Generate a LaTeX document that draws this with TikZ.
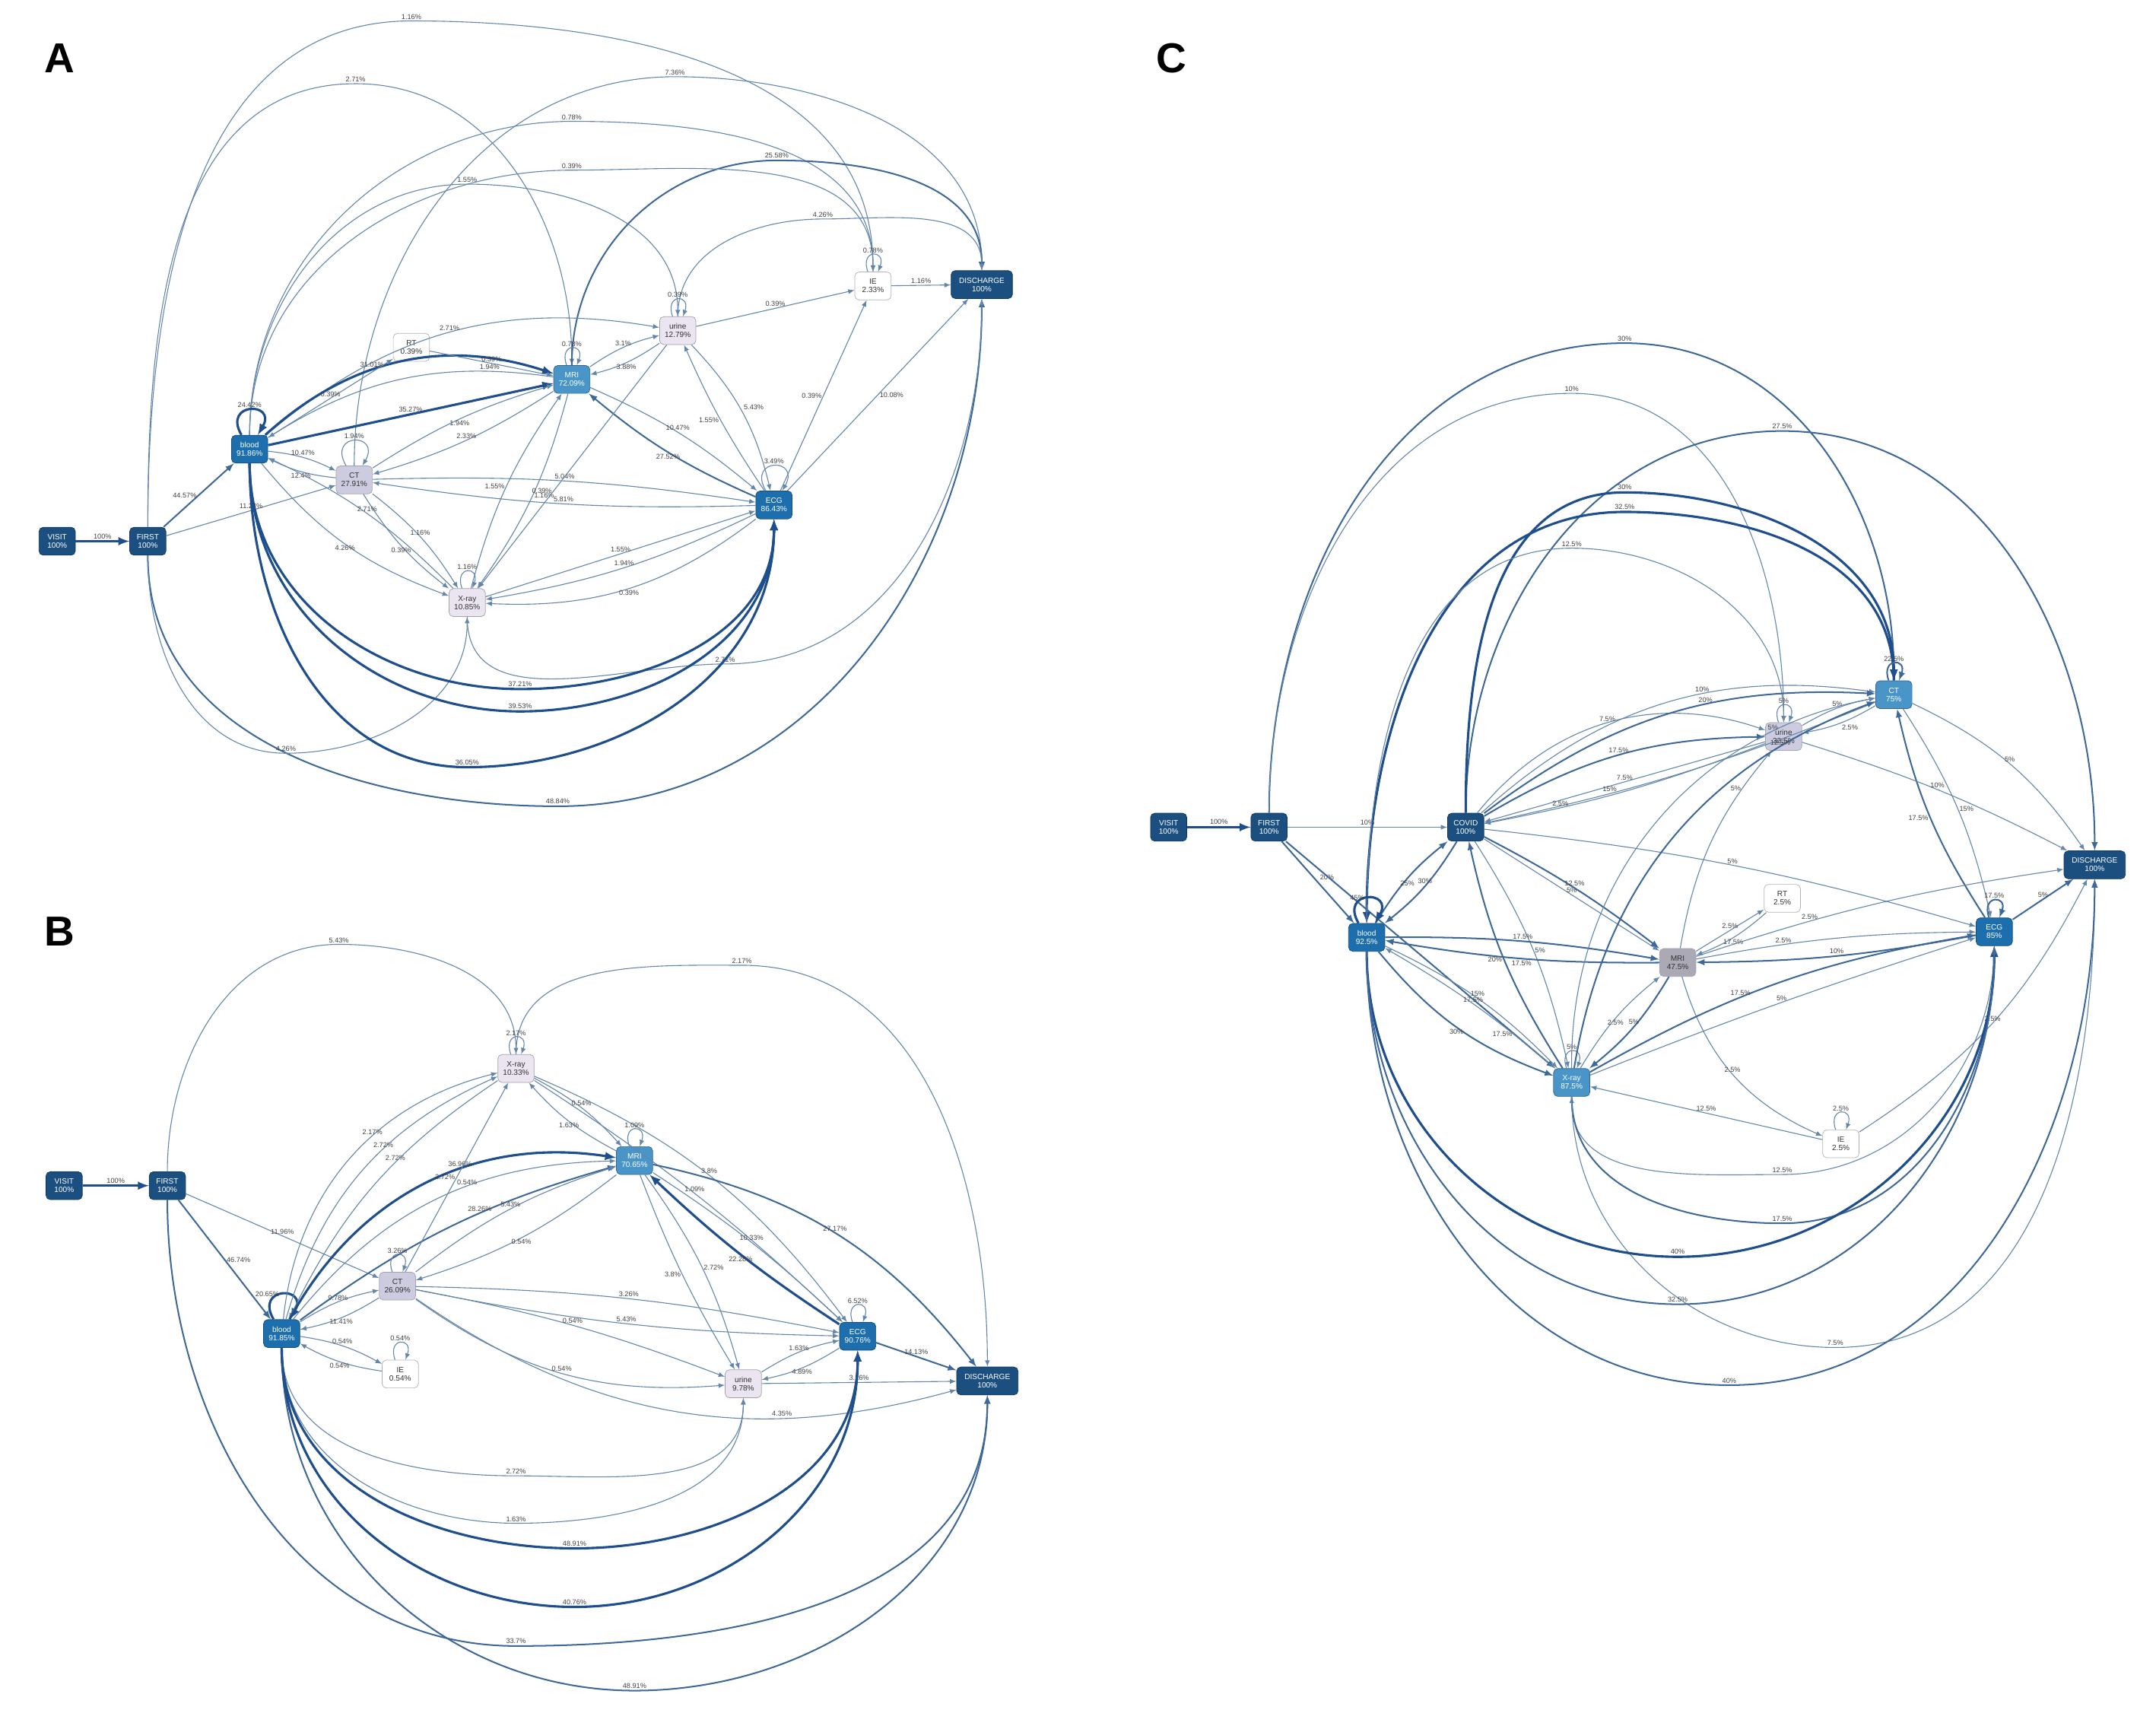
\documentclass[tikz,border=0pt]{standalone}
\usepackage{fontspec}
\setmainfont{Liberation Sans}
\newcommand\arcup[5]{\draw[#1] (#2) to[out=90,in=180] (#3) node[lab,above]{#4} to[out=0,in=90] (#5);}
\newcommand\arcdn[5]{\draw[#1] (#2) to[out=-90,in=180] (#3) node[lab,above]{#4} to[out=0,in=-90] (#5);}
\begin{document}
\begin{tikzpicture}[x=1pt,y=-1pt,
 nd/.style={rounded corners=3pt,minimum width=26pt,minimum height=20pt,inner sep=1pt,align=center,font=\fontsize{5.5}{6}\selectfont,draw=#1!70!black,fill=#1,text=white},
 dk/.style={nd=navy},
 bl/.style={nd=bblue},
 mb/.style={nd=mblue},
 lv/.style={nd=lav,text=black!80,draw=lav!80!black},
 lt/.style={nd=lite,text=black!80,draw=lite!70!black},
 wh/.style={nd=white,text=black!80,draw=gray!60},
 t/.style={draw=thin,line width=0.6pt,-latex},
 m/.style={draw=medc,line width=1.1pt,-latex},
 k/.style={draw=thk,line width=1.7pt,-latex},
 lab/.style={font=\fontsize{5}{5}\selectfont,text=black!75,inner sep=1pt},
 P/.style={font=\bfseries\fontsize{30}{30}\selectfont}]
\definecolor{navy}{HTML}{1B4F7F}
\definecolor{bblue}{HTML}{1C6EAD}
\definecolor{mblue}{HTML}{4A95C8}
\definecolor{lav}{HTML}{CDCBE0}
\definecolor{lite}{HTML}{EAE5F0}
\definecolor{thin}{HTML}{6486AA}
\definecolor{medc}{HTML}{3D6898}
\definecolor{thk}{HTML}{1E4E8C}
\useasboundingbox (0,0) rectangle (1546,1239);
\node[P] at (43,42) {A};
\node[P] at (43,668) {B};
\node[P] at (840,42) {C};
% ---------------- Panel A
\node[dk] (aV) at (41,388) {VISIT\\100\%};
\node[dk] (aF) at (106,388) {FIRST\\100\%};
\node[bl] (aB) at (179,322) {blood\\91.86\%};
\node[lv] (aC) at (254,344) {CT\\27.91\%};
\node[wh] (aR) at (295,249) {RT\\0.39\%};
\node[mb] (aM) at (410,272) {MRI\\72.09\%};
\node[lt] (aU) at (486,237) {urine\\12.79\%};
\node[wh] (aI) at (626,205) {IE\\2.33\%};
\node[dk,minimum width=44pt] (aD) at (704,204) {DISCHARGE\\100\%};
\node[bl] (aE) at (555,362) {ECG\\86.43\%};
\node[lt] (aX) at (335,432) {X-ray\\10.85\%};
\draw[k] (aV) -- node[lab,above]{100\%} (aF);
\draw[m] (aF) -- node[lab,left]{44.57\%} (aB);
\draw[t] (aF) -- node[lab,above]{11.24\%} (aC);
\arcdn{m}{aF}{400,578}{48.84\%}{aD}
\arcdn{t}{aF}{205,540}{4.26\%}{aX}
\arcup{t}{aF}{295,15}{1.16\%}{aI}
\arcup{t}{aF}{255,60}{2.71\%}{aM}
\arcup{t}{aC}{484,55}{7.36\%}{aD}
\arcup{t}{aB}{410,87}{0.78\%}{aI}
\arcup{m}{aM}{557,115}{25.58\%}{aD}
\arcup{t}{aB}{335,132}{1.55\%}{aU}
\arcup{t}{aB}{410,122}{0.39\%}{aI}
\arcup{t}{aU}{590,157}{4.26\%}{aD}
\draw[t] (aB) to[bend left=25] node[lab,above,pos=0.5]{2.71\%} (aU);
\draw[k] (aB) to[bend left=30] node[lab,above,pos=0.4]{31.01\%} (aM);
\draw[t] (aM) to[bend right=20] node[lab,pos=0.2,above]{1.94\%} (aB);
\draw[k] (aB) to[loop,out=120,in=60,looseness=6] node[lab,above]{24.42\%} (aB);
\draw[t] (aB) -- node[lab,above]{0.39\%} (aR);
\draw[t] (aR) -- node[lab,above]{0.39\%} (aM);
\draw[k] (aB) -- node[lab,above]{35.27\%} (aM);
\draw[t] (aB) to[bend left=10] node[lab,above]{10.47\%} (aC);
\draw[t] (aC) to[bend left=10] node[lab,below]{12.4\%} (aB);
\draw[t] (aC) to[loop,out=120,in=60,looseness=6] node[lab,above]{1.94\%} (aC);
\draw[t] (aM) to[bend left=8] node[lab,above]{2.33\%} (aC);
\draw[t] (aC) to[bend left=8] node[lab,below]{1.94\%} (aM);
\draw[t] (aM) to[loop,out=110,in=70,looseness=6] node[lab,above]{0.78\%} (aM);
\draw[t] (aM) to[bend left=10] node[lab,above]{3.1\%} (aU);
\draw[t] (aU) to[bend left=10] node[lab,below]{3.88\%} (aM);
\draw[t] (aU) to[loop,out=110,in=70,looseness=6] node[lab,above]{0.39\%} (aU);
\draw[t] (aU) -- node[lab,above]{0.39\%} (aI);
\draw[t] (aI) to[loop,out=110,in=70,looseness=6] node[lab,above]{0.78\%} (aI);
\draw[t] (aI) -- node[lab,above]{1.16\%} (aD);
\draw[t] (aE) -- node[lab,right]{10.08\%} (aD);
\draw[t] (aE) -- node[lab,left]{0.39\%} (aI);
\draw[t] (aU) to[bend left=15] node[lab,above right]{5.43\%} (aE);
\draw[t] (aE) to[bend left=5] node[lab,left]{1.55\%} (aU);
\draw[t] (aM) to[bend left=8] node[lab,above]{10.47\%} (aE);
\draw[m] (aE) to[bend left=8] node[lab,below]{27.52\%} (aM);
\draw[t] (aE) to[loop,out=120,in=60,looseness=6] node[lab,above]{3.49\%} (aE);
\draw[t] (aC) to[bend left=5] node[lab,above]{5.04\%} (aE);
\draw[t] (aE) to[bend left=5] node[lab,above]{5.81\%} (aC);
\draw[t] (aC) to[bend left=10] node[lab,above]{1.16\%} (aX);
\draw[t] (aC) to[bend right=10] node[lab,below]{0.39\%} (aX);
\draw[t] (aX) to[loop,out=110,in=70,looseness=6] node[lab,above]{1.16\%} (aX);
\draw[t] (aX) to[bend left=10] node[lab,left]{1.55\%} (aM);
\draw[t] (aM) to[bend left=10] node[lab,right]{1.16\%} (aX);
\draw[t] (aU) -- node[lab,left,pos=0.6]{0.39\%} (aX);
\draw[t] (aX) -- node[lab,above]{1.55\%} (aE);
\draw[t] (aE) to[bend left=8] node[lab,above]{1.94\%} (aX);
\draw[t] (aE) to[bend left=20] node[lab,below]{0.39\%} (aX);
\draw[t] (aX) to[bend right=10] node[lab,above]{2.71\%} (aB);
\draw[t] (aB) to[bend right=15] node[lab,below]{4.26\%} (aX);
\arcdn{t}{aX}{520,476}{2.71\%}{aD}
\arcdn{k}{aB}{373,494}{37.21\%}{aE}
\arcdn{k}{aB}{373,510}{39.53\%}{aE}
\arcdn{k}{aB}{335,550}{36.05\%}{aE}
% ---------------- Panel B
\node[dk] (bV) at (46,850) {VISIT\\100\%};
\node[dk] (bF) at (120,850) {FIRST\\100\%};
\node[bl] (bB) at (202,956) {blood\\91.85\%};
\node[wh] (bI) at (287,985) {IE\\0.54\%};
\node[lv] (bC) at (285,922) {CT\\26.09\%};
\node[lt] (bX) at (370,766) {X-ray\\10.33\%};
\node[mb] (bM) at (455,832) {MRI\\70.65\%};
\node[lt] (bU) at (533,992) {urine\\9.78\%};
\node[bl] (bE) at (615,958) {ECG\\90.76\%};
\node[dk,minimum width=44pt] (bD) at (708,990) {DISCHARGE\\100\%};
\draw[k] (bV) -- node[lab,above]{100\%} (bF);
\draw[m] (bF) -- node[lab,right]{46.74\%} (bB);
\draw[t] (bF) -- node[lab,above]{11.96\%} (bC);
\arcup{t}{bF}{243,677}{5.43\%}{bX}
\arcup{t}{bX}{532,692}{2.17\%}{bD}
\arcdn{m}{bF}{370,1180}{33.7\%}{bD}
\arcdn{m}{bB}{455,1212}{48.91\%}{bD}
\draw[k] (bB) to[loop,out=120,in=60,looseness=6] node[lab,left]{20.65\%} (bB);
\draw[t] (bB) to[bend left=10] node[lab,above]{9.78\%} (bC);
\draw[t] (bC) to[bend left=10] node[lab,below]{11.41\%} (bB);
\draw[t] (bB) to[bend left=10] node[lab,above]{0.54\%} (bI);
\draw[t] (bI) to[bend left=10] node[lab,below]{0.54\%} (bB);
\draw[t] (bI) to[loop,out=110,in=70,looseness=6] node[lab,above]{0.54\%} (bI);
\draw[t] (bB) to[bend left=35] node[lab,above,pos=0.6]{2.17\%} (bX);
\draw[t] (bB) to[bend left=25] node[lab,above,pos=0.6]{2.72\%} (bX);
\draw[t] (bX) to[bend right=15] node[lab,above,pos=0.4]{2.72\%} (bB);
\draw[k] (bB) to[bend left=35] node[lab,above,pos=0.6]{36.96\%} (bM);
\draw[t] (bB) to[bend left=25] node[lab,above,pos=0.6]{0.54\%} (bM);
\draw[m] (bB) to[bend left=10] node[lab,above,pos=0.6]{28.26\%} (bM);
\draw[t] (bC) to[loop,out=110,in=70,looseness=6] node[lab,above]{3.26\%} (bC);
\draw[t] (bC) to[bend left=10] node[lab,above]{5.43\%} (bM);
\draw[t] (bM) to[bend left=10] node[lab,below]{0.54\%} (bC);
\draw[t] (bC) -- node[lab,left]{2.72\%} (bX);
\draw[t] (bX) to[loop,out=110,in=70,looseness=6] node[lab,above]{2.17\%} (bX);
\draw[t] (bX) to[bend left=10] node[lab,above]{0.54\%} (bM);
\draw[t] (bM) to[bend left=10] node[lab,below]{1.63\%} (bX);
\draw[t] (bX) to[bend left=15] node[lab,above]{3.8\%} (bE);
\draw[t] (bX) to[bend left=5] node[lab,above]{1.09\%} (bE);
\draw[t] (bM) to[loop,out=110,in=70,looseness=6] node[lab,above]{1.09\%} (bM);
\draw[t] (bM) to[bend left=5] node[lab,above]{10.33\%} (bE);
\draw[k] (bE) to[bend left=5] node[lab,below]{22.28\%} (bM);
\draw[m] (bM) to[bend left=20] node[lab,above]{27.17\%} (bD);
\draw[t] (bM) to[bend left=10] node[lab,right]{2.72\%} (bU);
\draw[t] (bM) to[bend right=5] node[lab,left]{3.8\%} (bU);
\draw[t] (bC) to[bend left=5] node[lab,above]{3.26\%} (bE);
\draw[t] (bC) to[bend right=5] node[lab,above]{5.43\%} (bE);
\draw[t] (bC) to[bend left=5] node[lab,above]{0.54\%} (bU);
\draw[t] (bC) to[bend right=20] node[lab,above]{0.54\%} (bU);
\draw[t] (bC) to[bend right=25] node[lab,above,pos=0.7]{4.35\%} (bD);
\draw[t] (bU) to[bend left=10] node[lab,above]{1.63\%} (bE);
\draw[t] (bE) to[bend left=10] node[lab,below]{4.89\%} (bU);
\draw[t] (bU) -- node[lab,above]{3.26\%} (bD);
\draw[t] (bE) to[loop,out=110,in=70,looseness=6] node[lab,above]{6.52\%} (bE);
\draw[m] (bE) -- node[lab,above]{14.13\%} (bD);
\arcdn{t}{bB}{370,1058}{2.72\%}{bU}
\arcdn{t}{bB}{370,1092}{1.63\%}{bU}
\arcdn{k}{bB}{412,1110}{48.91\%}{bE}
\arcdn{k}{bB}{412,1152}{40.76\%}{bE}
% ---------------- Panel C
\node[dk] (cV) at (838,593) {VISIT\\100\%};
\node[dk] (cF) at (910,593) {FIRST\\100\%};
\node[dk] (cO) at (1051,593) {COVID\\100\%};
\node[bl] (cB) at (980,672) {blood\\92.5\%};
\node[lv,fill=gray!45!lav] (cM) at (1203,690) {MRI\\47.5\%};
\node[wh] (cR) at (1278,644) {RT\\2.5\%};
\node[mb] (cX) at (1127,776) {X-ray\\87.5\%};
\node[wh] (cI) at (1320,820) {IE\\2.5\%};
\node[lv] (cU) at (1279,528) {urine\\32.5\%};
\node[mb] (cC) at (1358,498) {CT\\75\%};
\node[bl] (cE) at (1430,668) {ECG\\85\%};
\node[dk,minimum width=44pt] (cD) at (1502,620) {DISCHARGE\\100\%};
\draw[k] (cV) -- node[lab,above]{100\%} (cF);
\draw[t] (cF) -- node[lab,above]{10\%} (cO);
\draw[m] (cF) -- node[lab,above right]{20\%} (cB);
\draw[m] (cF) -- node[lab,left,pos=0.85]{17.5\%} (cX);
\arcup{m}{cF}{1165,246}{30\%}{cC}
\arcup{t}{cF}{1127,282}{10\%}{cU}
\arcup{m}{cO}{1278,309}{27.5\%}{cD}
\arcup{k}{cO}{1165,353}{30\%}{cC}
\draw[k] (cC) to[out=90,in=0] (1165,367) node[lab,above]{32.5\%} to[out=180,in=90] (cB);
\arcup{t}{cB}{1127,393}{12.5\%}{cU}
\draw[t] (cO) to[bend left=35] node[lab,above]{7.5\%} (cU);
\draw[t] (cO) to[bend left=25] node[lab,above,pos=0.6]{10\%} (cC);
\draw[m] (cO) to[bend left=20] node[lab,above,pos=0.6]{20\%} (cC);
\draw[m] (cO) to[bend left=15] node[lab,above]{17.5\%} (cU);
\draw[t] (cU) -- node[lab,above]{7.5\%} (cO);
\draw[t] (cU) to[loop,out=110,in=70,looseness=6] node[lab,above]{5\%} (cU);
\draw[t] (cU) to[bend left=10] node[lab,above]{5\%} (cC);
\draw[t] (cC) to[bend left=10] node[lab,below right]{2.5\%} (cU);
\draw[m] (cC) to[loop,out=110,in=70,looseness=6] node[lab,above]{22.5\%} (cC);
\draw[t] (cC) to[bend left=15] node[lab,above]{5\%} (cD);
\draw[t] (cC) to[bend left=10] node[lab,right]{15\%} (cE);
\draw[m] (cE) to[bend left=10] node[lab,left]{17.5\%} (cC);
\draw[t] (cU) to[bend left=5] node[lab,above]{10\%} (cD);
\draw[t] (cC) to[bend left=5] node[lab,above,pos=0.7]{15\%} (cO);
\draw[t] (cU) to[bend left=5] node[lab,above,pos=0.75]{2.5\%} (cO);
\draw[t] (cO) to[bend left=5] node[lab,above]{5\%} (cE);
\draw[t] (cO) -- node[lab,above]{5\%} (cM);
\draw[m] (cO) to[bend left=5] node[lab,above]{12.5\%} (cM);
\draw[t] (cO) to[bend left=10] node[lab,right]{5\%} (cX);
\draw[m] (cX) to[bend left=10] node[lab,left]{20\%} (cO);
\draw[m] (cO) to[bend left=10] node[lab,above]{30\%} (cB);
\draw[m] (cB) to[bend left=10] node[lab,below]{25\%} (cO);
\draw[k] (cB) to[loop,out=120,in=60,looseness=6] node[lab,left]{45\%} (cB);
\draw[m] (cB) to[bend left=5] node[lab,above]{17.5\%} (cM);
\draw[m] (cM) to[bend left=5] node[lab,below]{17.5\%} (cB);
\draw[t] (cB) to[bend left=10] node[lab,above]{15\%} (cX);
\draw[m] (cB) to[bend right=15] node[lab,below]{30\%} (cX);
\draw[t] (cX) to[bend right=5] node[lab,above]{17.5\%} (cB);
\draw[t] (cM) -- node[lab,above]{2.5\%} (cR);
\draw[t] (cR) to[bend left=10] node[lab,below]{17.5\%} (cM);
\draw[t] (cM) to[bend left=5] node[lab,above,pos=0.3]{2.5\%} (cE);
\draw[t] (cM) to[bend left=5] node[lab,above,pos=0.3]{2.5\%} (cD);
\draw[m] (cE) to[bend left=5] node[lab,above]{10\%} (cM);
\draw[m] (cM) to[bend left=10] node[lab,above]{5\%} (cX);
\draw[t] (cX) to[bend left=10] node[lab,below]{2.5\%} (cM);
\draw[t] (cM) to[bend left=15] node[lab,left,pos=0.8]{5\%} (cU);
\draw[t] (cX) to[loop,out=110,in=70,looseness=6] node[lab,above]{5\%} (cX);
\draw[t] (cM) to[bend right=25] node[lab,above]{2.5\%} (cI);
\draw[t] (cI) to[loop,out=110,in=70,looseness=6] node[lab,above]{2.5\%} (cI);
\draw[t] (cI) -- node[lab,above]{12.5\%} (cX);
\draw[t] (cI) to[bend right=15] node[lab,above]{2.5\%} (cD);
\draw[m] (cX) to[bend left=10] node[lab,above,pos=0.4]{17.5\%} (cE);
\draw[t] (cX) to[bend left=2] node[lab,above]{5\%} (cE);
\draw[m] (cX) to[bend left=30] node[lab,above,pos=0.8]{12.5\%} (cC);
\draw[t] (cX) to[bend left=40] node[lab,above,pos=0.8]{5\%} (cC);
\draw[m] (cE) to[loop,out=110,in=70,looseness=6] node[lab,above]{17.5\%} (cE);
\draw[m] (cE) -- node[lab,above]{5\%} (cD);
\draw[t] (cE) to[out=-90,in=0] (1278,842) node[lab,above]{12.5\%} to[out=180,in=-90] (cX);
\arcdn{m}{cX}{1278,877}{17.5\%}{cE}
\arcdn{t}{cX}{1316,966}{7.5\%}{cD}
\arcdn{k}{cB}{1203,901}{40\%}{cE}
\arcdn{m}{cB}{1203,935}{32.5\%}{cE}
\arcdn{m}{cB}{1240,993}{40\%}{cD}
\end{tikzpicture}
\end{document}
